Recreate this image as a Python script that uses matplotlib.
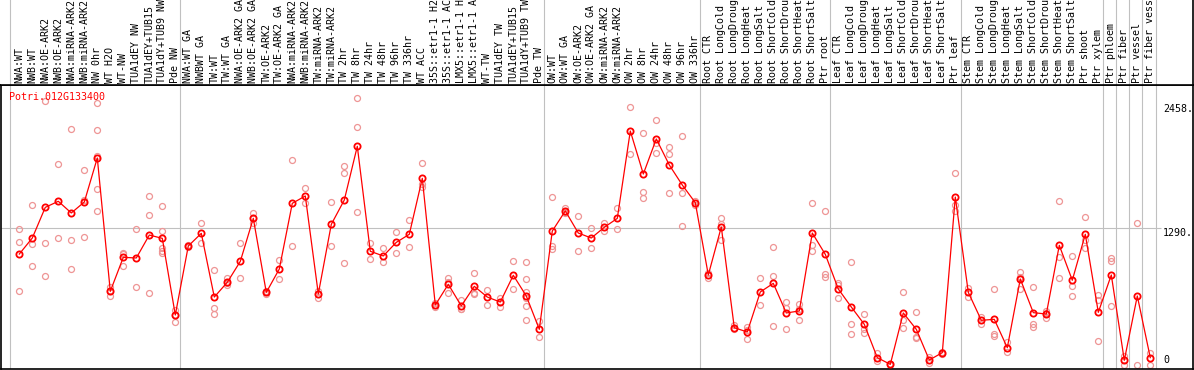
import numpy as np
import matplotlib
matplotlib.use("Agg")
import matplotlib.pyplot as plt

gene = "Potri.012G133400"

labels = [
    "NWA:WT", "NWB:WT", "NWA:OE-ARK2", "NWB:OE-ARK2", "NWA:miRNA-ARK2", "NWB:miRNA-ARK2",
    "NW 0hr", "WT H2O", "WT-NW", "TUA1dEY NW", "TUA1dEY+TUB15", "TUA1dY+TUB9 NW", "Pde NW",
    "NWA:WT GA", "NWBWT GA", "TW:WT", "TW:WT GA", "NWA:OE-ARK2 GA", "NWB:OE-ARK2 GA",
    "TW:OE-ARK2", "TW:OE-ARK2 GA", "NWA:miRNA-ARK2", "NWB:miRNA-ARK2", "TW:miRNA-ARK2",
    "TW:miRNA-ARK2", "TW 2hr", "TW 8hr", "TW 24hr", "TW 48hr", "TW 96hr", "TW 336hr",
    "WT ACC", "35S::etr1-1 H2", "35S::etr1-1 AC", "LMX5::etr1-1 H", "LMX5::etr1-1 A",
    "WT-TW", "TUA1dEY TW", "TUA1dEY+TUB15", "TUA1dY+TUB9 TW", "Pde TW",
    "OW:WT", "OW:WT GA", "OW:OE-ARK2", "OW:OE-ARK2 GA", "OW:miRNA-ARK2", "OW:miRNA-ARK2",
    "OW 2hr", "OW 8hr", "OW 24hr", "OW 48hr", "OW 96hr", "OW 336hr",
    "Root CTR", "Root LongCold", "Root LongDroug", "Root LongHeat", "Root LongSalt",
    "Root ShortCold", "Root ShortDrou", "Root ShortHeat", "Root ShortSalt", "Ptr root",
    "Leaf CTR", "Leaf LongCold", "Leaf LongDroug", "Leaf LongHeat", "Leaf LongSalt",
    "Leaf ShortCold", "Leaf ShortDrou", "Leaf ShortHeat", "Leaf ShortSalt", "Ptr leaf",
    "Stem CTR", "Stem LongCold", "Stem LongDroug", "Stem LongHeat", "Stem LongSalt",
    "Stem ShortCold", "Stem ShortDrou", "Stem ShortHeat", "Stem ShortSalt", "Ptr shoot",
    "Ptr xylem", "Ptr phloem", "Ptr fiber", "Ptr vessel", "Ptr fiber vess",
]

mean_expr = [
    1047, 1198, 1487, 1544, 1434, 1537, 1952, 696, 1016, 1010, 1226, 1195, 473,
    1123, 1242, 642, 781, 978, 1383, 686, 906, 1525, 1594, 671, 1327, 1556, 2062,
    1073, 1029, 1157, 1233, 1760, 567, 762, 558, 743, 642, 595, 847, 652, 338,
    1264, 1453, 1245, 1198, 1299, 1383, 2206, 1801, 2131, 1886, 1697, 1531,
    850, 1302, 353, 313, 690, 771, 492, 511, 1245, 1044,
    718, 548, 385, 71, 8, 492, 338, 49, 118, 1584,
    686, 423, 432, 165, 812, 495, 482, 1129, 800, 1233,
    498, 850, 46, 652, 71,
]

replicates = [
    [1283, 1157, 699], [1509, 1139, 934], [2489, 1151, 840], [1895, 1195],
    [2222, 1179, 906], [1836, 1556, 1205], [2467, 2212, 1974, 1657, 1450],
    [737, 699, 655], [1060, 1050, 937], [1283, 737], [1594, 1415, 677],
    [1500, 1267, 1101, 1079, 1055], [520, 473, 410],
    [1135, 1110], [1336, 1148], [894, 542, 485], [818, 770, 755], [1148, 818],
    [1431, 1383, 1336], [699, 686, 673], [994, 809], [1930, 1120], [1666, 1525],
    [699, 636], [1537, 1120], [1876, 1813, 960], [2514, 2241, 1443], [1151, 1003],
    [1101, 972], [1255, 1057], [1365, 1110], [1905, 1704, 1679], [583, 567, 551],
    [824, 785, 677], [614, 529, 530], [866, 677, 668], [711, 567], [630, 551],
    [978, 715], [972, 809, 686, 630, 558, 423], [416, 263],
    [1582, 1126, 1095], [1484, 1440, 1435], [1405, 1076], [1290, 1101], [1336, 1264],
    [1481, 1280], [2429, 1987], [2184, 1634, 1572], [2310, 2090, 1996],
    [2055, 1987, 1619], [2159, 1619, 1311], [1550, 1510],
    [866, 818], [1383, 1327, 1176], [378, 338], [363, 330, 244], [818, 567],
    [1110, 840, 369], [592, 542, 338], [576, 530, 423], [1528, 1132, 1079],
    [1450, 859, 828],
    [771, 755, 630], [969, 385, 294], [485, 338, 306], [112, 40], [15, 0],
    [686, 426, 353], [498, 263, 254], [80, 18], [128, 102], [1808, 1509, 1453],
    [724, 645], [457, 385], [718, 291, 278], [221, 127], [881, 834, 718],
    [737, 385, 363], [511, 492, 442], [1544, 1022, 824], [1025, 743, 652],
    [1393, 1179, 1107],
    [661, 614, 228], [1013, 982, 558], [89, 0], [1336, 0], [118, 0],
]

# group separators (between columns)
separators = [-0.72, 12.36, 40.4, 52.36, 62.36, 72.4, 83.36, 84.36, 85.38, 86.38, 87.4]
ytick_vals = [2458, 1290, 0]

W, H = 1194, 370
fig = plt.figure(figsize=(W / 100, H / 100), dpi=100)
xl = ((1 - 19.3) / 13.0, (1193 - 19.3) / 13.0)

ax = fig.add_axes([1 / W, 1 / H, 1192 / W, 284 / H])
head = fig.add_axes([1 / W, 285 / H, 1192 / W, 85 / H])

x = np.arange(len(labels))
grey = "#c0c0c0"
mono = "DejaVu Sans Mono"

# plot area
ax.set_xlim(*xl)
ax.set_ylim(-35.8, 2639.4)
for s in separators:
    ax.axvline(s, color=grey, lw=0.8, zorder=0)
ax.hlines(1290, xl[0], 87.8, color=grey, lw=0.8, zorder=0)

rx, ry = [], []
for i, r in enumerate(replicates):
    rx += [i] * len(r)
    ry += r
ax.plot(rx, ry, "o", ls="none", mfc="none", mec="#ee9595", ms=4.3, mew=0.9, zorder=2)
ax.plot(x, mean_expr, "-", color="red", lw=0.9, marker="o", mfc="none", mec="red",
        ms=4.5, mew=1.3, zorder=3)

ax.text(0.007, 0.957, gene, transform=ax.transAxes, color="red", fontsize=7.2,
        family=mono, va="center", ha="left", zorder=4)
for v in ytick_vals:
    ax.text(87.98, v, "%d." % v if v else "0", fontsize=7.2, family=mono,
            ha="left", va="bottom" if v == 0 else "top", zorder=4)

ax.set_xticks([])
ax.set_yticks([])
for sp in ax.spines.values():
    sp.set_color("black")
    sp.set_linewidth(1.2)

# header with the column names
head.set_xlim(*xl)
head.set_ylim(0, 1)
for s in separators:
    head.axvline(s, color=grey, lw=0.8, zorder=0)
for i, lab in enumerate(labels):
    head.text(i, 0.02, lab, rotation=90, ha="center", va="bottom", fontsize=7.2,
              family=mono, clip_on=True)
head.set_xticks([])
head.set_yticks([])
head.spines["top"].set_visible(False)
head.spines["left"].set_visible(False)
head.spines["right"].set_color("black")
head.spines["bottom"].set_color("black")
head.spines["right"].set_linewidth(1.2)
head.spines["bottom"].set_linewidth(1.2)

fig.savefig("out.png", dpi=100)
